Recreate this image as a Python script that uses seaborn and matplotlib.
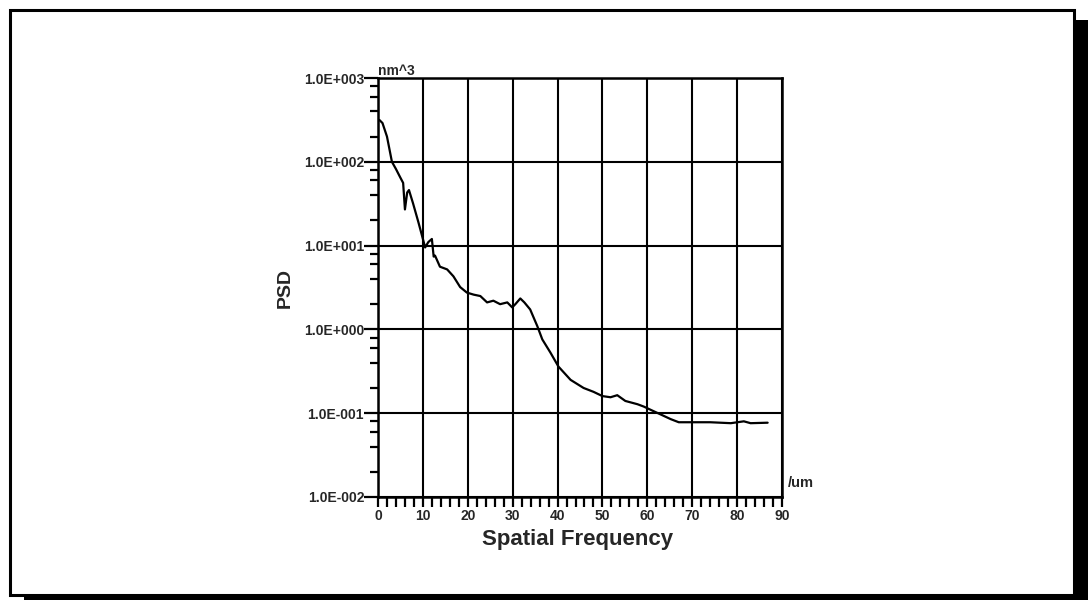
import matplotlib
matplotlib.use("Agg")
import matplotlib.pyplot as plt
from matplotlib.patches import Rectangle
from matplotlib.ticker import LogLocator, MultipleLocator, FixedLocator, FuncFormatter, NullFormatter
import numpy as np
import pandas as pd
import seaborn as sns

# Power spectral density vs spatial frequency
freq = [0.3, 1.0, 2.0, 3.1, 4.0, 4.9, 5.6, 6.0, 6.5, 6.9, 7.8, 9.0, 10.0, 10.5,
        11.2, 12.0, 12.4, 12.7, 13.8, 15.4, 16.8, 18.3, 19.8, 21.3, 22.8, 24.3,
        25.7, 27.2, 28.8, 29.9, 30.6, 31.7, 32.6, 33.9, 35.5, 36.6, 38.4, 40.2,
        42.9, 45.8, 48.0, 50.0, 51.8, 53.3, 55.1, 57.8, 59.2, 60.7, 62.9, 65.2,
        67.0, 69.6, 74.0, 78.6, 81.5, 83.0, 86.8]
psd = [316, 290, 200, 100, 82, 66, 56, 27, 43, 46, 32, 19, 12, 9.5,
       11.0, 12.0, 7.4, 7.6, 5.6, 5.2, 4.3, 3.2, 2.75, 2.6, 2.5, 2.1,
       2.2, 2.0, 2.1, 1.83, 2.0, 2.34, 2.1, 1.73, 1.09, 0.76, 0.53, 0.36,
       0.25, 0.20, 0.18, 0.16, 0.155, 0.164, 0.14, 0.128, 0.12, 0.11, 0.097, 0.085,
       0.078, 0.078, 0.078, 0.076, 0.080, 0.076, 0.077]

x_ticks = list(range(0, 91, 10))
y_decades = [-2, -1, 0, 1, 2, 3]

sns.set_style("white")
plt.rcParams["font.family"] = ["Liberation Sans", "DejaVu Sans"]

W, H = 1088, 600
fig = plt.figure(figsize=(W / 100, H / 100), dpi=100)

# page frame with drop shadow
fig.patches.append(Rectangle((1072 / W, 0), 16 / W, 1 - 20 / H, transform=fig.transFigure,
                             facecolor="black", edgecolor="none", zorder=0))
fig.patches.append(Rectangle((24 / W, 0), 1 - 24 / W, 5 / H, transform=fig.transFigure,
                             facecolor="black", edgecolor="none", zorder=0))
fig.patches.append(Rectangle((10 / W, 5 / H), 1064 / W, 1 - 15 / H, transform=fig.transFigure,
                             facecolor="white", edgecolor="black", linewidth=2.2, zorder=1))

L, R, T, B = 378, 782, 78, 497
ax = fig.add_axes([L / W, 1 - B / H, (R - L) / W, (B - T) / H])
ax.set_zorder(2)

df = pd.DataFrame({"freq": freq, "psd": psd})
sns.lineplot(data=df, x="freq", y="psd", ax=ax, color="black", linewidth=1.6, zorder=5)

ax.set_yscale("log")
ax.set_xlim(0, 90)
ax.set_ylim(1e-2, 1e3)

ax.xaxis.set_major_locator(FixedLocator(x_ticks))
ax.xaxis.set_minor_locator(MultipleLocator(2))
ax.yaxis.set_major_locator(FixedLocator([10.0 ** e for e in y_decades]))
ax.yaxis.set_minor_locator(LogLocator(base=10, subs=[2, 4, 6, 8]))
ax.yaxis.set_minor_formatter(NullFormatter())
ax.yaxis.set_major_formatter(FuncFormatter(lambda v, p: "1.0E%+04d" % int(round(np.log10(v)))))

ax.grid(True, which="major", color="black", linewidth=1.5)
ax.grid(False, which="minor")
for s in ax.spines.values():
    s.set_color("black")
    s.set_linewidth(1.8)

ax.tick_params(axis="both", which="both", direction="out", color="black", width=1.6,
               labelsize=10, bottom=True, left=True, top=False, right=False)
ax.tick_params(axis="y", which="major", length=10, pad=0)
ax.tick_params(axis="y", which="minor", length=6)
ax.tick_params(axis="x", which="both", length=7, pad=2)
for lab in ax.get_xticklabels() + ax.get_yticklabels():
    lab.set_fontweight("bold")

ax.set_xlabel("")
ax.set_ylabel("")

ax.text(0, 1.0, "nm^3", transform=ax.transAxes, ha="left", va="bottom",
        fontsize=10, fontweight="bold")
ax.annotate("/um", xy=(1, 0), xycoords="axes fraction", xytext=(4, 5),
            textcoords="offset points", ha="left", va="bottom", fontsize=10.5, fontweight="bold")

fig.text(578 / W, 1 - 540 / H, "Spatial Frequency", ha="center", va="center",
         fontsize=16, fontweight="bold")
fig.text(285 / W, 1 - 288 / H, "PSD", ha="center", va="center", rotation=90,
         fontsize=14, fontweight="bold")

fig.savefig("out.png", dpi=100, facecolor="white")
